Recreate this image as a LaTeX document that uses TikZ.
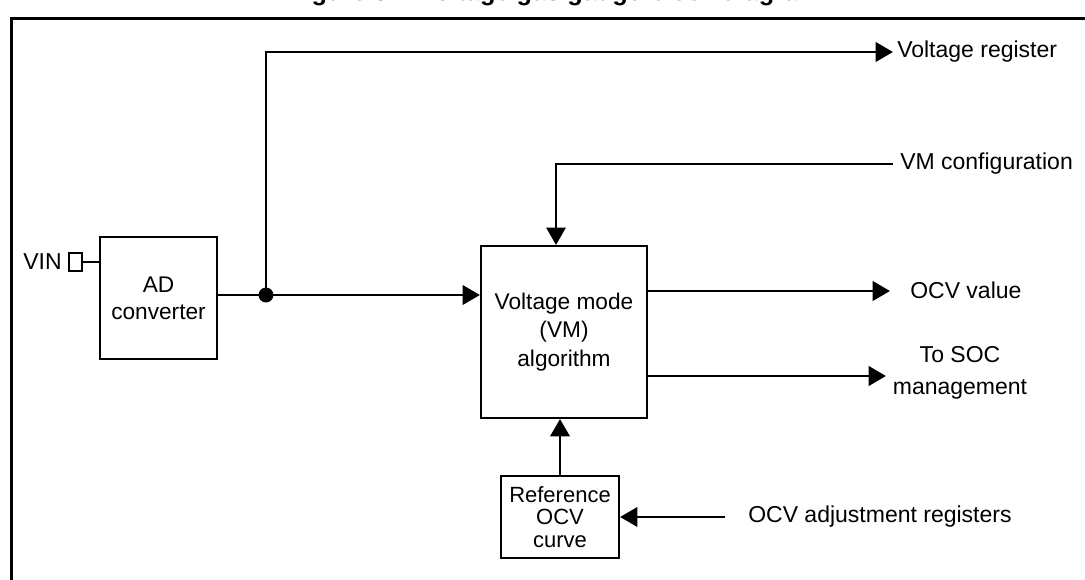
\documentclass[tikz,border=0pt]{standalone}
\usepackage{fontspec}
\setmainfont{Liberation Sans}
\usetikzlibrary{arrows.meta}
\begin{document}
\begin{tikzpicture}[x=0.75pt,y=-0.75pt,
  blk/.style={draw,line width=1.6pt,inner sep=0pt,align=center,font=\fontsize{17}{20.5}\selectfont},
  wire/.style={line width=2.2pt},
  arr/.style={wire,-{Triangle[length=13pt,width=14.5pt]}},
  lbl/.style={font=\fontsize{17.25}{24}\selectfont,inner sep=0pt}]
\useasboundingbox (0,0) rectangle (1085,580);
% frame
\draw[line width=2.2pt] (1100,18.5) -- (11.5,18.5) -- (11.5,600);
% title (cut off at the top, as in the reference)
\node[font=\bfseries\fontsize{19}{21}\selectfont,anchor=base,inner sep=0pt] (title) at (555,0.5) {Figure 3.\quad Voltage gas gauge block diagram};
% blocks
\node[blk,minimum width=87.75pt,minimum height=91.5pt] (ad) at (158.5,298) {AD\\converter};
\node[blk,minimum width=124.5pt,minimum height=129pt,font=\fontsize{17}{21.5}\selectfont] (vm) at (564,332) {Voltage mode\\(VM)\\algorithm};
\node[blk,minimum width=88.5pt,minimum height=61.5pt,font=\fontsize{16.5}{17}\selectfont] (ref) at (560,517) {Reference\\OCV\\curve};
% VIN pin
\node[draw,line width=1.3pt,minimum width=9.75pt,minimum height=13.5pt,inner sep=0pt] (pin) at (75.5,262) {};
\node[lbl,anchor=east] (vin) at (62,262) {VIN};
\draw[line width=1.5pt] (pin.east) -- (pin.east -| ad.west);
% labels
\node[lbl,anchor=west] (vrl) at (897,52) {Voltage register};
\node[lbl,anchor=west] (vmc) at (900,164) {VM configuration};
\node[lbl,anchor=west] (ocv) at (910,290) {OCV value};
\node[lbl,align=center,font=\fontsize{17.25}{24}\selectfont] (soc) at (960,373) {To SOC\\management};
\node[lbl,anchor=west] (adj) at (748,517) {OCV adjustment registers};
% coordinates
\coordinate (j) at (266,295);
\coordinate (vrtip) at (893,52);
\coordinate (vt) at (556,0);
\coordinate (ocvtip) at (890,291);
\coordinate (soctip) at (886,376);
\coordinate (adjs) at (725,517);
% connectors
\draw[wire] (j -| ad.east) -- (j);
\draw[arr] (j) -- (j -| vm.west);
\draw[arr] (j) |- (vrtip);
\fill (j) circle[radius=5.6pt];
\draw[line width=1.6pt,-{Triangle[length=13pt,width=14.5pt]}] ([xshift=-5pt]vmc.west) -| (vt |- vm.north);
\draw[arr] (ocvtip -| vm.east) -- (ocvtip);
\draw[arr] (soctip -| vm.east) -- (soctip);
\draw[arr] (ref.north) -- (ref.north |- vm.south);
\draw[arr] (adjs) -- (adjs -| ref.east);
\end{tikzpicture}
\end{document}
